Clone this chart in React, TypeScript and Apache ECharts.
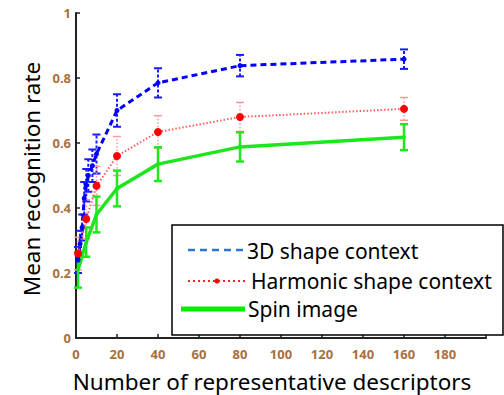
import React, { useEffect, useRef } from "react";
import * as echarts from "echarts";

const xTicks = [0, 20, 40, 60, 80, 100, 120, 140, 160, 180];
const yTicks = ["0", "0.2", "0.4", "0.6", "0.8", "1"];

const blueX = [1, 2, 3, 4, 5, 6, 8, 10, 20, 40, 80, 160];
const blueY = [0.24, 0.29, 0.34, 0.43, 0.47, 0.5, 0.53, 0.566, 0.7, 0.785, 0.838, 0.858];
const blueErr = [0.04, 0.04, 0.04, 0.05, 0.05, 0.05, 0.05, 0.06, 0.05, 0.045, 0.033, 0.03];

const redX = [1, 5, 10, 20, 40, 80, 160];
const redY = [0.26, 0.366, 0.468, 0.56, 0.634, 0.68, 0.705];
const redErr = [0.05, 0.06, 0.06, 0.06, 0.05, 0.045, 0.035];

const greenX = [1, 5, 10, 20, 40, 80, 160];
const greenY = [0.21, 0.295, 0.38, 0.46, 0.535, 0.588, 0.618];
const greenErr = [0.055, 0.045, 0.055, 0.055, 0.052, 0.045, 0.04];

const seriesNames = ["3D shape context", "Harmonic shape context", "Spin image"];

const FONT = "'Noto Sans', sans-serif";
const LABEL_COLOR = "#a8703e";

function errSeries(xs: number[], ys: number[], es: number[], color: string, width: number, dash: number[] | null) {
  return {
    type: "custom",
    z: 3,
    data: xs.map((x, i) => [x, ys[i] - es[i], ys[i] + es[i]]),
    renderItem: (params: any, api: any) => {
      const x = api.value(0);
      const p1 = api.coord([x, api.value(1)]);
      const p2 = api.coord([x, api.value(2)]);
      const cw = 4;
      const style: any = { stroke: color, lineWidth: width };
      if (dash) style.lineDash = dash;
      return {
        type: "group",
        children: [
          { type: "line", shape: { x1: p1[0], y1: p1[1], x2: p2[0], y2: p2[1] }, style },
          { type: "line", shape: { x1: p1[0] - cw, y1: p1[1], x2: p1[0] + cw, y2: p1[1] }, style: { stroke: color, lineWidth: width } },
          { type: "line", shape: { x1: p2[0] - cw, y1: p2[1], x2: p2[0] + cw, y2: p2[1] }, style: { stroke: color, lineWidth: width } },
        ],
      };
    },
  };
}

export default function App() {
  const ref = useRef<HTMLDivElement>(null);
  useEffect(() => {
    const chart = echarts.init(ref.current!, null, { renderer: "svg" });
    chart.setOption({
      animation: false,
      backgroundColor: "#ffffff",
      grid: { left: 76, right: 18, top: 13, bottom: 57, containLabel: false },
      xAxis: {
        type: "value",
        min: 0,
        max: 200,
        interval: 20,
        axisLine: { show: true, lineStyle: { color: "#222", width: 2 } },
        axisTick: { show: true, inside: true, length: 4, lineStyle: { color: "#222", width: 1.5 } },
        axisLabel: {
          margin: 9,
          color: LABEL_COLOR,
          fontFamily: FONT,
          fontSize: 13,
          fontWeight: "bold",
          formatter: (v: number) => (xTicks.includes(v) ? String(v) : ""),
        },
        splitLine: { show: false },
      },
      yAxis: {
        type: "value",
        min: 0,
        max: 1,
        interval: 0.2,
        axisLine: { show: true, lineStyle: { color: "#222", width: 2 } },
        axisTick: { show: true, inside: true, length: 4, lineStyle: { color: "#222", width: 1.5 } },
        axisLabel: {
          margin: 5,
          color: LABEL_COLOR,
          fontFamily: FONT,
          fontSize: 13,
          fontWeight: "bold",
          formatter: (v: number) => yTicks[Math.round(v * 5)] ?? "",
        },
        splitLine: { show: false },
      },
      series: [
        errSeries(blueX, blueY, blueErr, "#1a1aff", 2, [3, 2]),
        errSeries(redX, redY, redErr, "#ff9a9a", 1.5, [1.5, 2]),
        errSeries(greenX, greenY, greenErr, "#22e622", 2.5, null),
        {
          name: seriesNames[0],
          type: "line",
          z: 4,
          data: blueX.map((x, i) => [x, blueY[i]]),
          lineStyle: { color: "#0000ff", width: 3, type: [6, 4] },
          symbol: "circle",
          symbolSize: 5,
          itemStyle: { color: "#0000ff" },
        },
        {
          name: seriesNames[1],
          type: "line",
          z: 4,
          data: redX.map((x, i) => [x, redY[i]]),
          lineStyle: { color: "#ff5a5a", width: 2, type: [1.5, 2] },
          symbol: "circle",
          symbolSize: 8,
          itemStyle: { color: "#ff0000" },
        },
        {
          name: seriesNames[2],
          type: "line",
          z: 4,
          data: greenX.map((x, i) => [x, greenY[i]]),
          lineStyle: { color: "#1ee61e", width: 3.5 },
          symbol: "circle",
          symbolSize: 4,
          itemStyle: { color: "#1ee61e" },
        },
      ],
      graphic: [
        {
          type: "text",
          z: 100,
          style: {
            x: 272,
            y: 381,
            text: "Number of representative descriptors",
            font: `22.5px ${FONT}`,
            fill: "#000",
            align: "center",
            verticalAlign: "middle",
          },
        },
        {
          type: "text",
          z: 100,
          x: 31,
          y: 179,
          rotation: Math.PI / 2,
          style: {
            x: 0,
            y: 0,
            text: "Mean recognition rate",
            font: `22.5px ${FONT}`,
            fill: "#000",
            align: "center",
            verticalAlign: "middle",
          },
        },
        {
          type: "group",
          z: 100,
          children: [
            { type: "rect", z: 100, shape: { x: 172, y: 225, width: 331, height: 110 }, style: { fill: "#fff", stroke: "#000", lineWidth: 1.5 } },
            { type: "line", z: 101, shape: { x1: 188, y1: 250, x2: 247, y2: 250 }, style: { stroke: "#2a78cc", lineWidth: 2.5, lineDash: [7, 5] } },
            { type: "text", z: 101, style: { x: 247, y: 251, text: seriesNames[0], font: `21px ${FONT}`, fill: "#000", verticalAlign: "middle" } },
            { type: "line", z: 101, shape: { x1: 188, y1: 281, x2: 245, y2: 281 }, style: { stroke: "#ff2020", lineWidth: 2, lineDash: [2, 3] } },
            { type: "circle", z: 102, shape: { cx: 217, cy: 281, r: 2.5 }, style: { fill: "#ff0000" } },
            { type: "text", z: 101, style: { x: 251, y: 281, text: seriesNames[1], font: `21px ${FONT}`, fill: "#000", verticalAlign: "middle" } },
            { type: "line", z: 101, shape: { x1: 181, y1: 309, x2: 245, y2: 309 }, style: { stroke: "#00ee00", lineWidth: 5 } },
            { type: "text", z: 101, style: { x: 248, y: 309, text: seriesNames[2], font: `21px ${FONT}`, fill: "#000", verticalAlign: "middle" } },
          ],
        },
      ],
    });
    return () => chart.dispose();
  }, []);
  return <div ref={ref} style={{ position: "absolute", left: 0, top: 0, width: 504, height: 395 }} />;
}
